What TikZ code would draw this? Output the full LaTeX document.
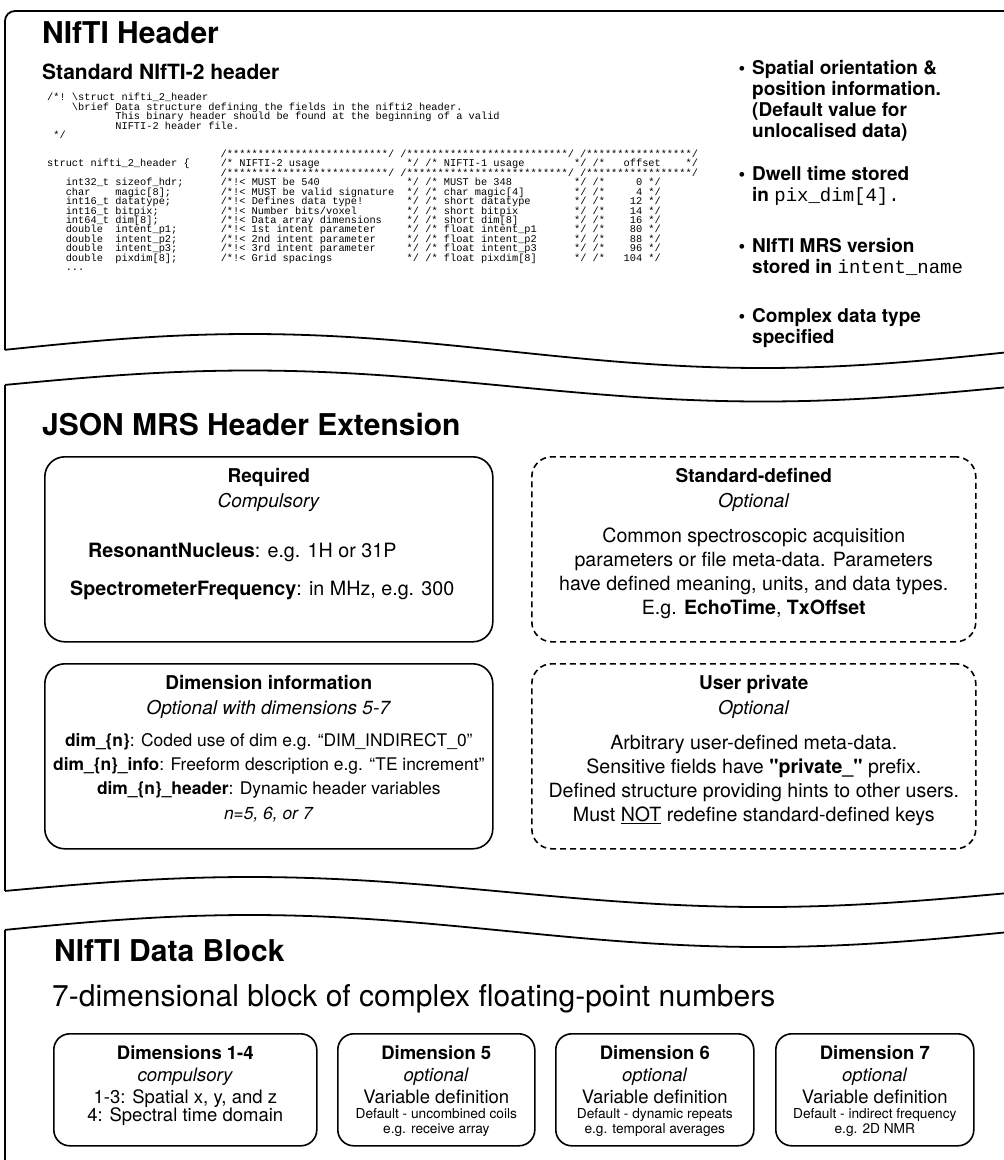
\documentclass[tikz,border=0pt]{standalone}
\usepackage{fontspec}
\setmainfont{TeX Gyre Heros}
\setmonofont{Liberation Mono}
\usetikzlibrary{positioning}

\newlength{\cw}
\newcommand{\sk}[1]{\hspace*{#1\cw}}
\newcommand{\codefont}{\fontsize{10.33}{9.45}\selectfont\ttfamily\setlength{\cw}{0.6em}\lineskiplimit=-\maxdimen}
\newcommand{\smalltxt}{\fontsize{13.7}{15}\selectfont}

\begin{document}
\begin{tikzpicture}[
    x=1pt, y=-1pt,
    frame/.style={line width=1.8pt},
    solidbox/.style={draw, line width=1.6pt, rounded corners=20pt, inner sep=0pt, anchor=north west},
    dashbox/.style={solidbox, dash pattern=on 6pt off 4pt},
    dimbox/.style={solidbox, rounded corners=16pt},
    title/.style={anchor=north west, inner sep=0pt, font=\fontsize{30}{36}\selectfont\bfseries},
    code/.style={anchor=north west, inner sep=0pt, align=left, font=\codefont},
    bullet/.style={anchor=north west, inner sep=0pt, align=left, font=\fontsize{19}{21}\selectfont\bfseries},
    txt/.style={anchor=north, inner sep=0pt, align=center, font=\fontsize{19.6}{24}\selectfont},
    dimtxt/.style={anchor=north, inner sep=0pt, align=center, font=\fontsize{18.5}{22}\selectfont}
    ]

    \useasboundingbox (0,0) rectangle (1004,1160);
    \clip (0,0) rectangle (1004,1160);

    % NIfTI header section
    \draw[frame, rounded corners=10pt] (1012,11) -- (5,11) -- (5,350);
    \draw[frame] plot[domain=5:1012, samples=90, smooth] (\x, {351-17*cos(0.3509*(\x-250))});

    \node[title] (hdrtitle) at (42,21) {NIfTI Header};
    \node[title, font=\fontsize{21}{25}\selectfont\bfseries] (hdrsub) at (42,64) {Standard NIfTI-2 header};

    \node[code] (hdrcode) at (47,93) {%
/*! \textbackslash struct nifti\_2\_header\\
\sk{4}\textbackslash brief Data structure defining the fields in the nifti2 header.\\
\sk{11}This binary header should be found at the beginning of a valid\\
\sk{11}NIFTI-2 header file.\\
\sk{1}*/\\
\mbox{}\\
\sk{28}/**************************/ /**************************/ /*****************/\\
struct nifti\_2\_header \{\sk{5}/* NIFTI-2 usage\sk{14}*/ /* NIFTI-1 usage\sk{8}*/ /*\sk{3}offset\sk{4}*/\\
\sk{28}/**************************/ /**************************/ /*****************/\\
\sk{3}int32\_t sizeof\_hdr;\sk{6}/*!< MUST be 540\sk{14}*/ /* MUST be 348\sk{10}*/ /*\sk{5}0 */\\
\sk{3}char\sk{4}magic[8];\sk{8}/*!< MUST be valid signature\sk{2}*/ /* char magic[4]\sk{8}*/ /*\sk{5}4 */\\
\sk{3}int16\_t datatype;\sk{8}/*!< Defines data type!\sk{7}*/ /* short datatype\sk{7}*/ /*\sk{4}12 */\\
\sk{3}int16\_t bitpix;\sk{10}/*!< Number bits/voxel\sk{8}*/ /* short bitpix\sk{9}*/ /*\sk{4}14 */\\
\sk{3}int64\_t dim[8];\sk{10}/*!< Data array dimensions\sk{4}*/ /* short dim[8]\sk{9}*/ /*\sk{4}16 */\\
\sk{3}double\sk{2}intent\_p1;\sk{7}/*!< 1st intent parameter\sk{5}*/ /* float intent\_p1\sk{6}*/ /*\sk{4}80 */\\
\sk{3}double\sk{2}intent\_p2;\sk{7}/*!< 2nd intent parameter\sk{5}*/ /* float intent\_p2\sk{6}*/ /*\sk{4}88 */\\
\sk{3}double\sk{2}intent\_p3;\sk{7}/*!< 3rd intent parameter\sk{5}*/ /* float intent\_p3\sk{6}*/ /*\sk{4}96 */\\
\sk{3}double\sk{2}pixdim[8];\sk{7}/*!< Grid spacings\sk{12}*/ /* float pixdim[8]\sk{6}*/ /*\sk{3}104 */\\
\sk{3}...};

    \node[bullet] (orient) at (752,60) {\llap{\textbullet\hspace{7pt}}Spatial orientation \&\\position information.\\(Default value for\\unlocalised data)};
    \node[bullet] (dwell) at (752,166) {\llap{\textbullet\hspace{7pt}}Dwell time stored\\in \texttt{\mdseries pix\_dim[4].}};
    \node[bullet] (version) at (752,238) {\llap{\textbullet\hspace{7pt}}NIfTI MRS version\\stored in \texttt{\mdseries intent\_name}};
    \node[bullet] (cplx) at (752,308) {\llap{\textbullet\hspace{7pt}}Complex data type\\specified};

    % JSON extension section
    \draw[frame] plot[domain=5:1012, samples=90, smooth] (\x, {386-15.5*cos(0.3509*(\x-250))});
    \draw[frame] (5,385) -- (5,891);
    \draw[frame] plot[domain=5:1012, samples=90, smooth] (\x, {892-15*cos(0.3509*(\x-250))});

    \node[title] (jsontitle) at (42,413) {JSON MRS Header Extension};

    \node[solidbox, minimum width=448pt, minimum height=185pt] (reqbox) at (44,456) {};
    \node[dashbox, minimum width=444pt, minimum height=185pt] (stdbox) at (531,456) {};
    \node[solidbox, minimum width=448pt, minimum height=185pt] (dimbox) at (44,663) {};
    \node[dashbox, minimum width=444pt, minimum height=185pt] (usrbox) at (531,663) {};

    \node[txt, below=12pt of reqbox.north, font=\fontsize{19}{25}\selectfont] (reqhead) {\textbf{Required}\\\textit{Compulsory}};
    \node[txt, anchor=north west, align=left, font=\fontsize{19.7}{24}\selectfont] (reqbody) at (70,543) {\hspace*{18pt}\textbf{ResonantNucleus}: e.g. 1H or 31P\\[14pt]\textbf{SpectrometerFrequency}: in MHz, e.g. 300};

    \node[txt, below=12pt of stdbox.north, font=\fontsize{19}{25}\selectfont] (stdhead) {\textbf{Standard-defined}\\\textit{Optional}};
    \node[txt, below=72pt of stdbox.north] (stdbody) {Common spectroscopic acquisition\\parameters or file meta-data. Parameters\\have defined meaning, units, and data types.\\E.g. \textbf{EchoTime}, \textbf{TxOffset}};

    \node[txt, below=12pt of dimbox.north, font=\fontsize{19}{25.5}\selectfont] (dimhead) {\textbf{Dimension information}\\\textit{Optional with dimensions 5-7}};
    \node[txt, below=70pt of dimbox.north, font=\fontsize{17.4}{24.3}\selectfont] (dimbody) {\textbf{dim\_\{n\}}: Coded use of dim e.g. “DIM\_INDIRECT\_0”\\\textbf{dim\_\{n\}\_info}: Freeform description e.g. “TE increment”\\\textbf{dim\_\{n\}\_header}: Dynamic header variables\\\textit{n=5, 6, or 7}};

    \node[txt, below=12pt of usrbox.north, font=\fontsize{19}{25}\selectfont] (usrhead) {\textbf{User private}\\\textit{Optional}};
    \node[txt, below=72pt of usrbox.north] (usrbody) {Arbitrary user-defined meta-data.\\Sensitive fields have \textbf{\textquotedbl private\_\textquotedbl} prefix.\\Defined structure providing hints to other users.\\Must \underline{NOT} redefine standard-defined keys};

    % NIfTI data block section
    \draw[frame] plot[domain=5:1012, samples=90, smooth] (\x, {931-16*cos(0.3509*(\x-250))});
    \draw[frame] (5,930) -- (5,1170);

    \node[title] (blocktitle) at (54,939) {NIfTI Data Block};
    \node[title, font=\fontsize{30}{36}\selectfont] (blocksub) at (52,984) {7-dimensional block of complex floating-point numbers};

    \node[dimbox, minimum width=263pt, minimum height=112pt] (dimsa) at (53,1033) {};
    \node[dimbox, minimum width=197pt, minimum height=112pt] (dimfive) at (337,1033) {};
    \node[dimbox, minimum width=198pt, minimum height=112pt] (dimsix) at (555,1033) {};
    \node[dimbox, minimum width=198pt, minimum height=112pt] (dimseven) at (775,1033) {};

    \node[dimtxt, below=13pt of dimsa.north] (dimsatxt) {\textbf{Dimensions 1-4}\\\textit{compulsory}\\1-3: Spatial x, y, and z\\[-4pt]4: Spectral time domain};
    \node[dimtxt, below=13pt of dimfive.north] (dimfivetxt) {\textbf{Dimension 5}\\\textit{optional}\\Variable definition\\[-7pt]{\smalltxt Default - uncombined coils}\\[-7pt]{\smalltxt e.g. receive array}};
    \node[dimtxt, below=13pt of dimsix.north] (dimsixtxt) {\textbf{Dimension 6}\\\textit{optional}\\Variable definition\\[-7pt]{\smalltxt Default - dynamic repeats}\\[-7pt]{\smalltxt e.g. temporal averages}};
    \node[dimtxt, below=13pt of dimseven.north] (dimseventxt) {\textbf{Dimension 7}\\\textit{optional}\\Variable definition\\[-7pt]{\smalltxt Default - indirect frequency}\\[-7pt]{\smalltxt e.g. 2D NMR}};

\end{tikzpicture}
\end{document}
